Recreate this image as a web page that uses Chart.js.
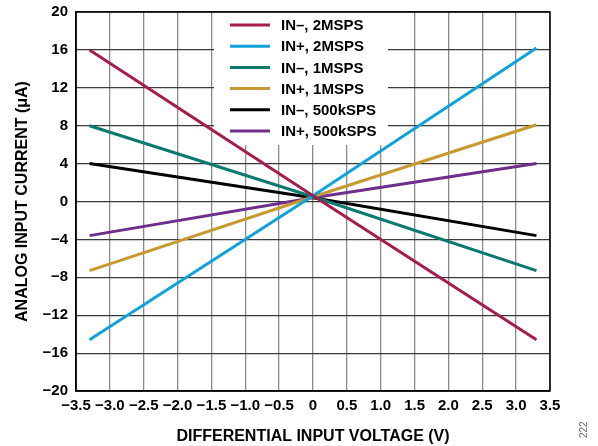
<!DOCTYPE html>
<html>
<head>
<meta charset="utf-8">
<script src="https://cdn.jsdelivr.net/npm/chart.js@4/dist/chart.umd.min.js"></script>
<style>
html,body{margin:0;padding:0;background:#fff;}
#wrap{position:relative;width:598px;height:446px;}
#side{position:absolute;left:578px;top:438px;font:10px "Liberation Sans",Arial,sans-serif;color:#666;transform:rotate(-90deg);transform-origin:left top;}
</style>
</head>
<body>
<div id="wrap">
<canvas id="c" width="598" height="446"></canvas>
<div id="side">222</div>
</div>
<script>
// Data
const voltage = [-3.3, 0, 3.3];
const inMinus2M = [16.0, 0.6, -14.6];
const inPlus2M = [-14.6, 0.6, 16.2];
const inMinus1M = [8.0, 0.5, -7.3];
const inPlus1M = [-7.3, 0.5, 8.1];
const inMinus500k = [4.0, 0.4, -3.6];
const inPlus500k = [-3.6, 0.4, 4.0];
const labels = ["IN–, 2MSPS","IN+, 2MSPS","IN–, 1MSPS","IN+, 1MSPS","IN–, 500kSPS","IN+, 500kSPS"];
const colors = ["#A51D4B","#10A3DA","#0B7A6E","#C69A2E","#000000","#6E2E8A"];
const series = [inMinus2M,inPlus2M,inMinus1M,inPlus1M,inMinus500k,inPlus500k];

const FONT = '"Liberation Sans", Arial, sans-serif';
const minus = s => String(s).replace('-', '\u2212');

const datasets = series.map((vals,i)=>({
  label: labels[i],
  data: voltage.map((v,j)=>({x:v,y:vals[j]})),
  borderColor: colors[i],
  backgroundColor: colors[i],
  borderWidth: 3,
  pointRadius: 0,
  tension: 0,
  fill: false
}));

const legendPlugin = {
  id: 'boxLegend',
  beforeDatasetsDraw(chart){
    const ctx = chart.ctx;
    const top = chart.chartArea.top;
    ctx.save();
    ctx.fillStyle = '#fff';
    ctx.fillRect(214, top + 1, 174, 132);
    ctx.font = 'bold 15px ' + FONT;
    ctx.textBaseline = 'middle';
    chart.data.datasets.forEach((ds,i)=>{
      const y = top + 13 + i*21.2;
      ctx.strokeStyle = ds.borderColor;
      ctx.lineWidth = 3;
      ctx.beginPath();
      ctx.moveTo(230, y); ctx.lineTo(270, y); ctx.stroke();
      ctx.fillStyle = '#000';
      ctx.fillText(ds.label, 281, y+1);
    });
    ctx.restore();
  },
  afterDraw(chart){
    const a = chart.chartArea, ctx = chart.ctx;
    ctx.save();
    ctx.strokeStyle = '#000';
    ctx.lineWidth = 1.5;
    ctx.strokeRect(a.left, a.top, a.right-a.left, a.bottom-a.top);
    ctx.restore();
  }
};

new Chart(document.getElementById('c'), {
  type: 'line',
  data: { datasets },
  plugins: [legendPlugin],
  options: {
    responsive: false,
    animation: false,
    layout: { padding: { top: 12, right: 48, left: 0, bottom: 0 } },
    plugins: { legend: { display: false }, tooltip: { enabled: false } },
    scales: {
      x: {
        type: 'linear', min: -3.5, max: 3.5,
        ticks: { stepSize: 0.5, color: '#000', padding: 6, maxRotation: 0, minRotation: 0, autoSkip: false,
          font: { family: FONT, size: 15, weight: 'bold' },
          callback: v => Math.abs(v) < 1e-9 ? '0' : minus(v.toFixed(1)) },
        grid: { color: '#8a8a8a', lineWidth: 1.3, drawTicks: false },
        border: { color: '#000', width: 1.5 },
        title: { display: true, text: 'DIFFERENTIAL INPUT VOLTAGE (V)', color: '#000',
          font: { family: FONT, size: 16, weight: 'bold' }, padding: { top: 8, bottom: 0 } },
        afterFit: s => { s.height = 55; s.paddingLeft = 0; s.paddingRight = 0; }
      },
      y: {
        type: 'linear', min: -20, max: 20,
        ticks: { stepSize: 4, color: '#000', padding: 8,
          font: { family: FONT, size: 15, weight: 'bold' },
          callback: v => minus(v) },
        grid: { color: '#3a3a3a', lineWidth: 1.2, drawTicks: false },
        border: { color: '#000', width: 1.5 },
        title: { display: true, text: 'ANALOG INPUT CURRENT (μA)', color: '#000',
          font: { family: FONT, size: 16, weight: 'bold' }, padding: { top: 13, bottom: 4 } },
        afterFit: s => { s.width = 76; s.paddingTop = 0; s.paddingBottom = 0; }
      }
    }
  }
});
</script>
</body>
</html>
